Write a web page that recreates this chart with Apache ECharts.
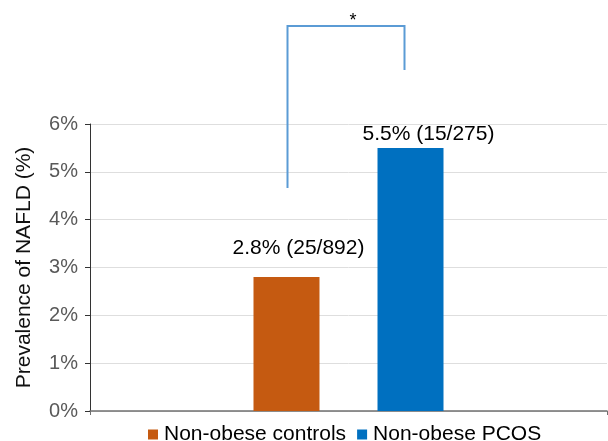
<!DOCTYPE html>
<html>
<head>
<meta charset="utf-8">
<script src="https://cdn.jsdelivr.net/npm/echarts@6/dist/echarts.min.js"></script>
<style>html,body{margin:0;padding:0;background:#fff}#c{width:608px;height:441px}</style>
</head>
<body>
<div id="c"></div>
<script>
const categories = [''];
const seriesNames = ['Non-obese controls', 'Non-obese PCOS'];
const controlsValues = [2.8];
const pcosValues = [5.5];
const valueLabels = ['2.8% (25/892)', '5.5% (15/275)'];
const yTicks = [0, 1, 2, 3, 4, 5, 6];
const bracketLevels = { leftEnd: 4.66, top: 8.05, rightEnd: 7.13 };
const significance = '*';

const FONT = 'Liberation Sans, Arial, Helvetica, sans-serif';
const chart = echarts.init(document.getElementById('c'), null, { renderer: 'canvas' });
const BAR_W = 66, BAR_GAP = 58;

const option = {
  animation: false,
  grid: { left: 90, right: 1, top: 124, bottom: 30 },
  legend: {
    data: seriesNames,
    left: 143, top: 419,
    itemWidth: 10, itemHeight: 10, itemGap: 11,
    icon: 'rect',
    textStyle: { fontFamily: FONT, fontSize: 21, color: '#000', padding: [0, 0, 0, 1] }
  },
  xAxis: {
    type: 'category', data: categories,
    axisLine: { lineStyle: { color: '#707070', width: 1.5 } },
    axisTick: { show: true, length: 4, lineStyle: { color: '#707070' } },
    axisLabel: { show: false }
  },
  yAxis: {
    type: 'value', min: yTicks[0], max: yTicks[yTicks.length - 1], interval: 1,
    name: 'Prevalence of NAFLD (%)', nameLocation: 'middle', nameGap: 55,
    nameTextStyle: { fontFamily: FONT, fontSize: 21, color: '#111' },
    axisLine: { show: true, lineStyle: { color: '#333', width: 1 } },
    axisTick: { show: true, length: 5, lineStyle: { color: '#333' } },
    axisLabel: { formatter: '{value}%', fontFamily: FONT, fontSize: 20, color: '#595959', margin: 12 },
    splitLine: { lineStyle: { color: '#dedede', width: 1 } }
  },
  series: [
    {
      name: seriesNames[0], type: 'bar', data: controlsValues,
      barWidth: BAR_W, barGap: (BAR_GAP / BAR_W * 100).toFixed(1) + '%',
      itemStyle: { color: '#C55A11' },
      label: { show: true, position: 'top', distance: 3, offset: [12, -15],
        formatter: () => valueLabels[0], fontFamily: FONT, fontSize: 21, color: '#000' }
    },
    {
      name: seriesNames[1], type: 'bar', data: pcosValues,
      barWidth: BAR_W,
      itemStyle: { color: '#0070C0' },
      label: { show: true, position: 'top', distance: 3, offset: [18, 0],
        formatter: () => valueLabels[1], fontFamily: FONT, fontSize: 21, color: '#000' }
    }
  ]
};
chart.setOption(option);

// bracket annotation positioned via axes
const cx = chart.convertToPixel({ xAxisIndex: 0 }, 0);
const half = (BAR_W * 2 + BAR_GAP) / 2;
const xLeft = cx - half + BAR_W / 2 + 1;
const xRight = cx + half - BAR_W / 2 - 6;
const yL = chart.convertToPixel({ yAxisIndex: 0 }, bracketLevels.leftEnd);
const yT = chart.convertToPixel({ yAxisIndex: 0 }, bracketLevels.top);
const yR = chart.convertToPixel({ yAxisIndex: 0 }, bracketLevels.rightEnd);
chart.setOption({
  graphic: [
    { type: 'polyline', silent: true,
      shape: { points: [[xLeft, yL], [xLeft, yT], [xRight, yT], [xRight, yR]] },
      style: { stroke: '#5B9BD5', lineWidth: 2, fill: null } },
    { type: 'text', silent: true, x: (xLeft + xRight) / 2 + 7, y: yT - 5,
      style: { text: significance, font: '18px ' + FONT, fill: '#000', align: 'center', verticalAlign: 'middle' } }
  ]
});
</script>
</body>
</html>
